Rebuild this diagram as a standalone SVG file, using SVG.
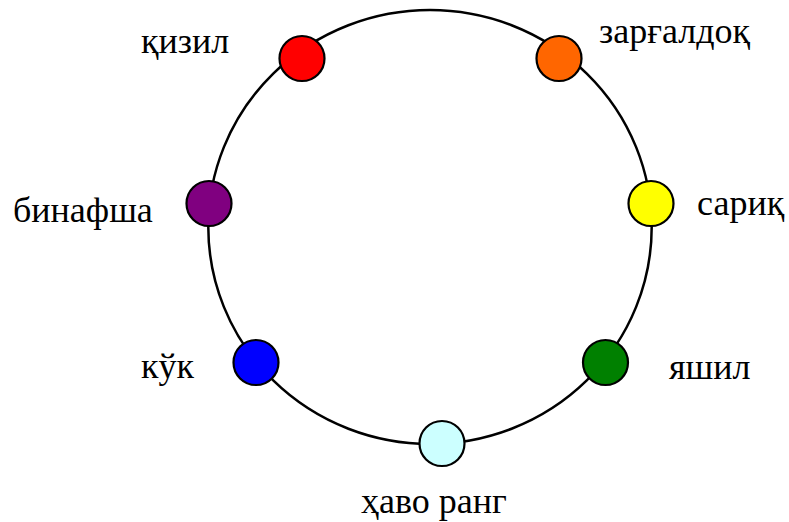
<svg xmlns="http://www.w3.org/2000/svg" width="789" height="522" viewBox="0 0 789 522">
<style>
.dot{stroke:#000;stroke-width:2.2}
.ring{fill:none;stroke:#000;stroke-width:2.5}
text{font-family:'Liberation Serif','Times New Roman',Times,'DejaVu Serif',serif;font-size:36px;fill:#000}
</style>
<rect width="789" height="522" fill="#fff"/>
<g id="connectors">
<ellipse class="ring" cx="430" cy="227" rx="221.7" ry="217"/>
</g>
<g id="qizil"><circle class="dot" cx="302" cy="58.5" r="22.5" fill="#ff0000"/><text x="141" y="53">қизил</text></g>
<g id="zargaldoq"><circle class="dot" cx="559" cy="58.5" r="22.5" fill="#ff6600"/><text x="599" y="43">зарғалдоқ</text></g>
<g id="binafsha"><circle class="dot" cx="209" cy="203.5" r="22.5" fill="#800080"/><text x="13" y="221.5">бинафша</text></g>
<g id="sariq"><circle class="dot" cx="651" cy="203.5" r="22.5" fill="#ffff00"/><text x="697" y="215">сариқ</text></g>
<g id="kuk"><circle class="dot" cx="256" cy="362.5" r="22.5" fill="#0000ff"/><text x="141" y="377.5">кўк</text></g>
<g id="yashil"><circle class="dot" cx="605.5" cy="362.5" r="22.5" fill="#008000"/><text x="669" y="378.5">яшил</text></g>
<g id="havorang"><circle class="dot" cx="442" cy="443.5" r="22.5" fill="#ccffff"/><text x="361" y="513">ҳаво ранг</text></g>
</svg>
